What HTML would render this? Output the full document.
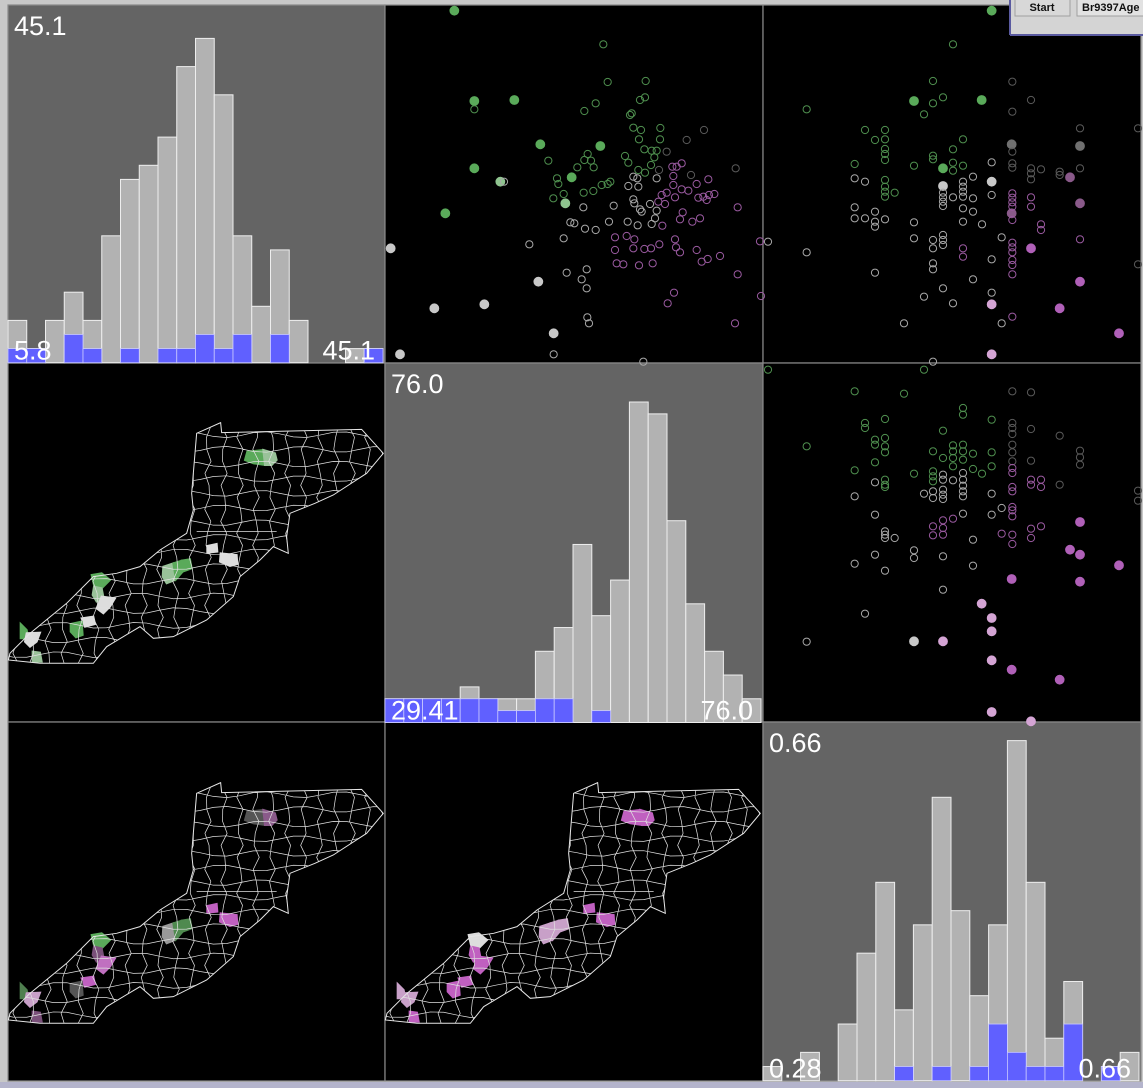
<!DOCTYPE html>
<html><head><meta charset="utf-8"><style>
html,body{margin:0;padding:0;background:#c8c8c8;}
svg{display:block;font-family:"Liberation Sans",sans-serif;}
</style></head><body>
<svg id="root" width="1143" height="1088" viewBox="0 0 1143 1088">
<rect x="0" y="0" width="1143" height="1088" fill="#c8c8c8"/>
<rect x="0" y="1082" width="1143" height="6" fill="#b4b4cc"/>
<g id="panels"></g>
<g>
<rect x="1010" y="0" width="133" height="35" fill="#d4d4d4"/>
<line x1="1010" y1="0" x2="1010" y2="35" stroke="#5a5aa0" stroke-width="2"/>
<line x1="1010" y1="35" x2="1143" y2="35" stroke="#5a5aa0" stroke-width="2"/>
<rect x="1015" y="-2" width="55" height="18" fill="#d8d8d8" stroke="#a0a0a0"/>
<text x="1042" y="11" font-size="11" font-weight="bold" text-anchor="middle" fill="#111">Start</text>
<rect x="1077" y="-2" width="70" height="18" fill="#e2e2e2" stroke="#a0a0a0"/>
<text x="1082" y="11" font-size="11" font-weight="bold" fill="#111">Br9397Age</text>
</g>
</svg>
<script>
// ---- histogram data ----
const hist1Gray=[3,1,3,5,3,9,13,14,16,21,23,19,9,4,8,3,0,0,1,1];
const hist1Blue=[1,1,0,2,1,0,1,0,1,1,2,1,2,0,2,0,0,0,0,1];
const hist1Labels=["45.1","5.8","45.1"];
const hist2Gray=[2,2,2,2,3,2,2,2,6,8,15,9,12,27,26,17,10,6,4,2];
const hist2Blue=[2,2,2,2,2,2,1,1,2,2,0,1,0,0,0,0,0,0,0,0];
const hist2Labels=["76.0","29.41","76.0"];
const hist3Gray=[1,0,2,0,4,9,14,5,11,20,12,6,11,24,14,3,7,0,1,2];
const hist3Blue=[0,0,0,0,0,0,0,1,0,1,0,1,4,2,1,1,4,0,1,0];
const hist3Labels=["0.66","0.28","0.66"];
// ---- scatter data: [x, y, colorKey, filled] ----
const scatter1Points=[
[208,32,'g',1],[268,303,'g',1],[388,300,'g',1],[466,433,'g',1],[646,438,'g',1],[268,505,'g',1],[346,545,'lg',1],[560,532,'g',1],[541,610,'lg',1],[181,640,'g',1],
[17,745,'w',1],[460,845,'w',1],[148,925,'w',1],[298,913,'w',1],[506,1000,'w',1],[45,1063,'w',1],
[655,133,'g',0],[668,246,'g',0],[782,243,'g',0],[598,333,'g',0],[632,310,'g',0],[765,300,'g',0],[780,292,'g',0],[740,340,'g',0],[735,345,'g',0],[745,383,'g',0],[768,390,'g',0],[826,384,'g',0],[762,418,'g',0],[825,418,'g',0],[778,448,'g',0],[800,452,'g',0],[815,452,'g',0],[845,455,'d',0],[720,468,'g',0],[608,462,'g',0],[598,480,'g',0],[618,482,'g',0],[490,482,'g',0],[577,502,'g',0],[626,502,'g',0],[730,488,'g',0],[808,472,'g',0],[760,510,'g',0],[780,518,'g',0],[798,495,'g',0],[516,535,'g',0],[520,552,'g',0],[505,595,'g',0],[536,582,'g',0],[596,578,'g',0],[625,573,'g',0],[650,555,'g',0],[668,552,'g',0],[676,545,'g',0],[357,545,'w',0],[268,328,'g',0],
[745,530,'w',0],[757,535,'w',0],[730,558,'w',0],[760,560,'w',0],[815,535,'w',0],[822,510,'d',0],[595,622,'w',0],[686,617,'w',0],[745,598,'w',0],[748,610,'w',0],[765,628,'w',0],[770,635,'w',0],[795,612,'w',0],[815,632,'w',0],[810,655,'w',0],[800,672,'w',0],[672,665,'w',0],[556,667,'w',0],[568,670,'w',0],[600,686,'w',0],[632,690,'w',0],[536,715,'w',0],[433,733,'w',0],[545,818,'w',0],[605,808,'w',0],[590,838,'w',0],[605,865,'w',0],[607,952,'w',0],[612,970,'w',0],[506,1063,'w',0],[775,1085,'w',0],[728,665,'w',0],[758,676,'w',0],[957,390,'d',0],[905,420,'d',0],[1052,505,'d',0],[918,525,'d',0],
[862,500,'p',0],[875,500,'p',0],[890,490,'p',0],[865,528,'p',0],[935,552,'p',0],[970,538,'p',0],[865,555,'p',0],[890,568,'p',0],[910,572,'p',0],[940,593,'p',0],[955,590,'p',0],[972,585,'p',0],[988,582,'p',0],[965,600,'p',0],[845,578,'p',0],[830,585,'p',0],[820,605,'p',0],[840,612,'p',0],[870,592,'p',0],[1058,622,'p',0],[893,637,'p',0],[885,658,'p',0],[922,665,'p',0],[945,655,'p',0],[832,677,'p',0],[690,712,'p',0],[725,708,'p',0],[748,718,'p',0],[690,750,'p',0],[745,745,'p',0],[778,747,'p',0],[798,745,'p',0],[823,733,'p',0],[870,718,'p',0],[873,742,'p',0],[885,757,'p',0],[935,750,'p',0],[950,785,'p',0],[968,777,'p',0],[1005,768,'p',0],[695,790,'p',0],[715,793,'p',0],[762,796,'p',0],[803,790,'p',0],[1058,823,'p',0],[867,878,'p',0],[848,910,'p',0],[1050,970,'p',0],[1128,888,'p',0],[1125,724,'p',0]
];
const scatter2Points=[
[686,32,'g',1],[453,303,'g',1],[656,300,'g',1],[540,505,'g',1],[746,433,'d',1],[951,438,'d',1],[686,545,'w',1],[540,558,'w',1],[921,532,'dp',1],[951,610,'dp',1],[746,640,'dp',1],[804,745,'p',1],[951,845,'p',1],[890,925,'p',1],[1068,1000,'p',1],[686,913,'lp',1],[686,1063,'lp',1],
[570,133,'g',0],[510,243,'g',0],[540,292,'g',0],[510,310,'g',0],[483,343,'g',0],[131,328,'g',0],[306,390,'g',0],[366,390,'g',0],[336,420,'g',0],[366,418,'g',0],[366,447,'g',0],[366,462,'g',0],[366,480,'g',0],[510,467,'g',0],[510,478,'g',0],[453,497,'g',0],[275,492,'g',0],[600,418,'g',0],[570,448,'g',0],[570,488,'g',0],[570,512,'g',0],[600,497,'g',0],[275,535,'w',0],[306,545,'w',0],[366,540,'g',0],[366,560,'g',0],[366,575,'g',0],[366,590,'g',0],[395,578,'g',0],
[540,578,'w',0],[540,592,'w',0],[540,605,'w',0],[540,618,'w',0],[600,545,'w',0],[600,560,'w',0],[600,575,'w',0],[600,590,'w',0],[630,530,'w',0],[570,592,'w',0],[630,595,'w',0],[600,625,'w',0],[630,635,'w',0],[600,665,'w',0],[657,673,'w',0],[686,487,'w',0],[686,585,'w',0],[275,622,'w',0],[275,655,'w',0],[306,655,'w',0],[336,635,'w',0],[336,665,'w',0],[336,680,'w',0],[366,658,'w',0],[453,667,'w',0],[453,715,'w',0],[510,720,'w',0],[510,745,'w',0],[540,705,'w',0],[540,720,'w',0],[540,735,'w',0],[686,778,'w',0],[510,790,'w',0],[510,808,'w',0],[336,818,'w',0],[131,757,'w',0],[15,725,'w',0],[630,838,'w',0],[540,865,'w',0],[483,890,'w',0],[570,910,'w',0],[686,878,'w',0],[423,970,'w',0],[510,1085,'w',0],[716,970,'w',0],[748,245,'d',0],[804,300,'d',0],[748,335,'d',0],[748,455,'d',0],[748,490,'d',0],[748,503,'d',0],[804,505,'d',0],[804,520,'d',0],[804,538,'d',0],[834,508,'d',0],[890,515,'d',0],[890,525,'d',0],[951,385,'d',0],[951,505,'d',0],[1125,385,'d',0],[1125,793,'d',0],[716,712,'w',0],
[748,580,'p',0],[748,593,'p',0],[748,607,'p',0],[748,620,'p',0],[748,660,'p',0],[804,592,'p',0],[804,620,'p',0],[834,673,'p',0],[834,690,'p',0],[600,745,'p',0],[600,770,'p',0],[748,728,'p',0],[748,742,'p',0],[748,757,'p',0],[748,780,'p',0],[748,795,'p',0],[748,823,'p',0],[951,718,'p',0],[748,950,'p',0]
];
const scatter3Points=[
[951,477,'p',1],[921,560,'p',1],[951,575,'p',1],[1068,607,'p',1],[746,648,'p',1],[951,656,'p',1],[656,722,'lp',1],[686,765,'lp',1],[686,805,'lp',1],[453,835,'w',1],[540,835,'lp',1],[686,892,'lp',1],[746,920,'p',1],[890,950,'p',1],[686,1047,'lp',1],[804,1075,'lp',1],
[15,20,'g',0],[483,20,'g',0],[275,85,'g',0],[423,92,'g',0],[131,250,'g',0],[306,180,'g',0],[306,195,'g',0],[366,168,'g',0],[336,230,'g',0],[336,245,'g',0],[366,225,'g',0],[366,250,'g',0],[366,268,'g',0],[336,298,'g',0],[275,322,'g',0],[510,265,'g',0],[540,203,'g',0],[570,247,'g',0],[570,265,'g',0],[570,285,'g',0],[600,245,'g',0],[600,265,'g',0],[600,290,'g',0],[630,272,'g',0],[600,135,'g',0],[600,155,'g',0],[686,170,'g',0],[686,268,'g',0],[686,310,'g',0],[630,318,'g',0],[657,332,'g',0],[540,285,'g',0],[570,310,'g',0],[510,325,'g',0],[510,340,'g',0],[510,355,'g',0],[453,332,'g',0],
[336,358,'w',0],[366,350,'g',0],[366,365,'g',0],[366,372,'g',0],[540,335,'w',0],[540,350,'w',0],[570,352,'w',0],[600,330,'w',0],[600,350,'w',0],[600,368,'w',0],[600,385,'w',0],[600,400,'w',0],[483,392,'w',0],[510,385,'w',0],[510,405,'w',0],[540,380,'w',0],[540,395,'w',0],[540,408,'w',0],[275,400,'w',0],[336,455,'w',0],[366,505,'w',0],[366,515,'w',0],[366,525,'w',0],[395,525,'w',0],[336,575,'w',0],[275,602,'w',0],[366,623,'w',0],[453,562,'w',0],[453,585,'w',0],[540,580,'w',0],[630,530,'w',0],[630,608,'w',0],[540,680,'w',0],[306,752,'w',0],[131,836,'w',0],[686,392,'w',0],[686,455,'w',0],[716,435,'w',0],[600,452,'w',0],[748,85,'d',0],[804,88,'d',0],[748,180,'d',0],[748,195,'d',0],[748,213,'d',0],[748,245,'d',0],[748,268,'d',0],[748,295,'d',0],[804,198,'d',0],[804,293,'d',0],[890,218,'d',0],[951,263,'d',0],[951,283,'d',0],[951,305,'d',0],[890,365,'d',0],[1125,383,'d',0],[1125,413,'d',0],
[748,315,'p',0],[748,330,'p',0],[748,372,'p',0],[748,385,'p',0],[748,432,'p',0],[748,442,'p',0],[748,460,'p',0],[748,515,'p',0],[748,543,'p',0],[804,350,'p',0],[804,365,'p',0],[834,350,'p',0],[834,372,'p',0],[804,497,'p',0],[804,525,'p',0],[834,490,'p',0],[716,512,'p',0],[540,472,'p',0],[540,495,'p',0],[540,515,'p',0],[510,490,'p',0],[510,517,'p',0],[570,467,'p',0]
];
const scatterXDomain=[0,1140];
const scatterYDomain=[0,1095];
// ---- map region colors (one per highlighted county) ----
const map1Colors=['#5aaa5a','#99c299','#99c299','#5aaa5a','#5aaa5a','#dddddd','#dddddd','#5aaa5a','#99c299','#dddddd','#dddddd','#5aaa5a','#5aaa5a','#dddddd','#99c299'];
const map2Colors=['#555555','#8a5a8a','#999999','#4f8a4f','#4f8a4f','#c060c0','#c060c0','#5aaa5a','#7a507a','#c070c0','#c060c0','#555555','#4f7f4f','#c8a0c8','#7a507a'];
const map3Colors=['#c060c0','#c060c0','#c8a0c8','#c8a0c8','#c8a0c8','#c060c0','#c060c0','#dddddd','#c060c0','#c060c0','#c060c0','#c060c0','#c8a0c8','#c8a0c8','#c060c0'];

const NS='http://www.w3.org/2000/svg';
const panels=document.getElementById('panels');
function el(tag,attrs,parent){const e=document.createElementNS(NS,tag);for(const k in attrs)e.setAttribute(k,attrs[k]);(parent||panels).appendChild(e);return e;}
const colorMap={g:'#5aaa5a',lg:'#8fc48f',w:'#c8c8c8',d:'#707070',p:'#b060b8',dp:'#8a5a8a',lp:'#d4a4d4'};
const hollowMap={g:'#4f904f',lg:'#8fc48f',w:'#a8a8a8',d:'#5a5a5a',p:'#9a5aa0',dp:'#8a5a8a',lp:'#d4a4d4'};

const cols=[[8,385],[385,763],[763,1141]];
const rows=[[5,363],[363,722],[722,1081]];
rows.forEach((r,ri)=>cols.forEach((c,ci)=>{
  const diag=ri===ci;
  const rc=el('rect',{x:c[0],y:r[0],width:c[1]-c[0],height:r[1]-r[0],fill:diag?'#646464':'#000',stroke:'#8a8a8a','stroke-width':1.2});
  
  
}));

function histogram(name,x0,base,binW,unit,gray,blue,labels,top){
  const g=el('g',{});
  
  
  const xS=i=>x0+i*binW, yS=v=>base-v*unit;
  gray.forEach((v,i)=>{ if(v<=0)return;
    const r=el('rect',{x:xS(i),y:yS(v),width:binW,height:v*unit,fill:'#b2b2b2',stroke:'#eeeeee','stroke-width':1},g);
    
    
  });
  blue.forEach((v,i)=>{ if(v<=0)return;
    const r=el('rect',{x:xS(i),y:yS(v),width:binW,height:v*unit,fill:'#6060ff',stroke:'#c8c8ff','stroke-width':0.8},g);
    
    
  });
  const t1=el('text',{x:x0+6,y:top+30,'font-size':27,fill:'#fff'},g);t1.textContent=labels[0];
  
  
  const t2=el('text',{x:x0+6,y:base-3,'font-size':27,fill:'#fff'},g);t2.textContent=labels[1];
  
  
  const t3=el('text',{x:x0+binW*20-8,y:base-3,'font-size':27,fill:'#fff','text-anchor':'end'},g);t3.textContent=labels[2];
  
  
}
histogram('histogram-var1',8,362.7,18.75,14.1,hist1Gray,hist1Blue,hist1Labels,5);
histogram('histogram-var2',385,722.5,18.8,11.87,hist2Gray,hist2Blue,hist2Labels,363);
histogram('histogram-var3',763,1080.7,18.8,14.17,hist3Gray,hist3Blue,hist3Labels,722);

function scatter(name,px,py,w,h,pts){
  const g=el('g',{});
  
  
  const xS=v=>px+(v-scatterXDomain[0])/(scatterXDomain[1]-scatterXDomain[0])*w;
  const yS=v=>py+(v-scatterYDomain[0])/(scatterYDomain[1]-scatterYDomain[0])*h;
  pts.forEach((p,i)=>{
    const c=el('circle',{cx:xS(p[0]),cy:yS(p[1]),r:p[3]?4.4:3.6,fill:p[3]?colorMap[p[2]]:'none',stroke:p[3]?colorMap[p[2]]:hollowMap[p[2]],'stroke-width':1},g);
    
    
  });
}
scatter('scatter-var2-var1',385,0,380,365,scatter1Points);
scatter('scatter-var3-var1',763,0,380,365,scatter2Points);
scatter('scatter-var3-var2',763,363,380,365,scatter3Points);

const outline=[[590,100],[662,68],[665,98],[1085,88],[1150,160],[1100,220],[1000,285],[945,310],[870,340],[860,410],[865,460],[820,440],[780,480],[720,530],[700,590],[620,660],[520,710],[460,715],[420,680],[320,740],[280,790],[120,790],[25,780],[30,760],[90,700],[200,610],[280,530],[350,520],[420,500],[480,450],[560,400],[580,330],[575,280]];
const patches=[
[[742,155],[790,150],[795,195],[760,190],[735,180]],
[[790,150],[825,160],[830,180],[815,195],[795,195]],
[[490,500],[520,490],[525,540],[500,550],[488,530]],
[[520,490],[545,482],[548,515],[528,538]],
[[545,482],[570,478],[575,505],[548,515]],
[[622,438],[650,432],[652,455],[622,458]],
[[662,460],[710,465],[712,492],[690,498],[660,485]],
[[275,525],[305,520],[330,540],[305,565],[282,555]],
[[282,560],[305,565],[312,600],[290,605],[278,585]],
[[305,590],[345,595],[330,620],[310,640],[290,625]],
[[245,655],[280,650],[285,672],[255,680]],
[[212,672],[245,665],[248,705],[228,712],[212,695]],
[[62,672],[80,690],[85,715],[62,715]],
[[80,700],[120,698],[110,725],[90,740],[75,725]],
[[98,755],[120,758],[125,785],[98,785]]];
const defs=el('defs',{});
const cp=el('clipPath',{id:'mapclip'},defs);
el('polygon',{points:outline.map(p=>p.join(',')).join(' ')},cp);
function drawMap(name,ox,oy,colors){
  const g=el('g',{transform:`translate(${ox},${oy}) scale(0.3333)`});
  
  
  patches.forEach((pp,i)=>{
    const p=el('polygon',{points:pp.map(q=>q.join(',')).join(' '),fill:colors[i],stroke:colors[i],'stroke-width':6},g);
    
    
  });
  const lines=el('g',{'clip-path':'url(#mapclip)',stroke:'#e0e0e0','stroke-width':2.2,fill:'none'},g);
  
  
  let d='';
  for(let y=60;y<=800;y+=44){let s='M0,'+y;for(let x=0;x<=1160;x+=40){s+=' L'+x+','+(y+9*Math.sin(x*0.13+y*0.07));}d+=s+' ';}
  for(let x=0;x<=1160;x+=48){let s='M'+x+',40';for(let y=40;y<=800;y+=36){s+=' L'+(x+10*Math.sin(y*0.11+x*0.05))+','+y;}d+=s+' ';}
  el('path',{d:d},lines);
  el('polyline',{points:'590,395 830,395',stroke:'#e0e0e0','stroke-width':2.4,fill:'none'},g);
  const o=el('polygon',{points:outline.map(p=>p.join(',')).join(' '),fill:'none',stroke:'#e6e6e6','stroke-width':3},g);
  
  
}
drawMap('map-var1',0,400,map1Colors);
drawMap('map-var2',0,760,map2Colors);
drawMap('map-var3',377,760,map3Colors);
</script>
</body></html>
